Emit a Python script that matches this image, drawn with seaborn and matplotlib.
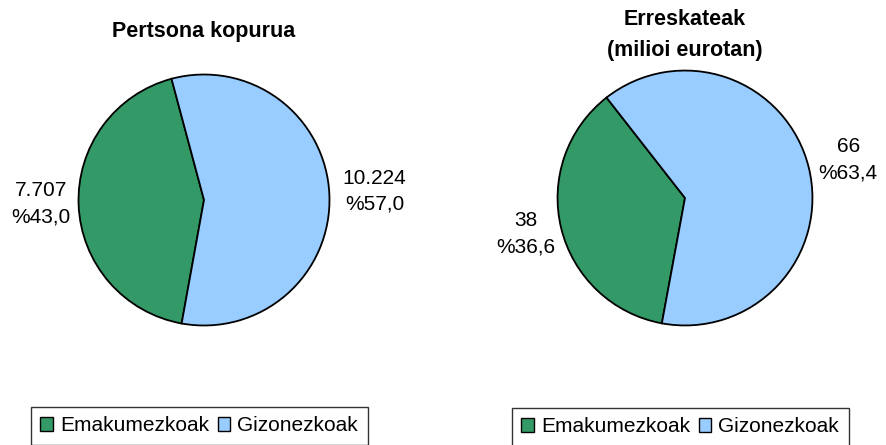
import matplotlib.pyplot as plt
import seaborn as sns

# data
categories = ['Emakumezkoak', 'Gizonezkoak']
persons = [7707, 10224]
persons_pct = ['%43,0', '%57,0']
persons_txt = ['7.707', '10.224']
money = [38, 66]
money_pct = ['%36,6', '%63,4']
money_txt = ['38', '66']

sns.set_theme(style='white')
plt.rcParams['font.family'] = ['Liberation Sans', 'DejaVu Sans']
plt.rcParams['text.color'] = 'black'
colors = sns.color_palette(['#339966', '#99ccff'])

fig = plt.figure(figsize=(8.86, 4.45), dpi=100)
W, H = 886, 445


def draw_pie(cx, cy, r, values, start, title, labels, label_pos, legend_x, legend_y):
    ax = fig.add_axes([(cx - r) / W, (H - cy - r) / H, 2 * r / W, 2 * r / H])
    wedges, _ = ax.pie(values, colors=colors, startangle=start, radius=1,
                       wedgeprops=dict(edgecolor='black', linewidth=1.3))
    ax.set_xlim(-1.02, 1.02)
    ax.set_ylim(-1.02, 1.02)
    ax.set_aspect('equal')
    ax.axis('off')
    for txt, (x, y) in zip(labels, label_pos):
        ax.text(x, y, txt, ha='center', va='center', fontsize=15, color='black',
                linespacing=1.45, clip_on=False)
    fig.text(cx / W, 1 - title[1] / H, title[0], ha='center', va='center',
             fontsize=15.5, fontweight='bold', color='black', linespacing=1.65)
    leg = fig.legend(wedges, categories, loc='upper left', ncol=2,
                     bbox_to_anchor=(legend_x / W, 1 - legend_y / H),
                     fontsize=15, frameon=True, fancybox=False,
                     handlelength=0.6, handleheight=0.6, handletextpad=0.35,
                     columnspacing=0.4, borderpad=0.45, borderaxespad=0)
    leg.get_frame().set_edgecolor('black')
    leg.get_frame().set_linewidth(1.0)
    for t in leg.get_texts():
        t.set_color('black')
    for h in leg.legend_handles:
        h.set_edgecolor('black')
        h.set_linewidth(1.0)


draw_pie(204, 200, 128, persons, 105, ('Pertsona kopurua', 32),
         [f'{persons_txt[0]}\n{persons_pct[0]}', f'{persons_txt[1]}\n{persons_pct[1]}'],
         [(-1.30, -0.03), (1.36, 0.07)], 31, 407)

draw_pie(685, 198, 130, money, 128, ('Erreskateak\n(milioi eurotan)', 35),
         [f'{money_txt[0]}\n{money_pct[0]}', f'{money_txt[1]}\n{money_pct[1]}'],
         [(-1.25, -0.28), (1.28, 0.30)], 512, 408)

fig.savefig('out.png', dpi=100)
